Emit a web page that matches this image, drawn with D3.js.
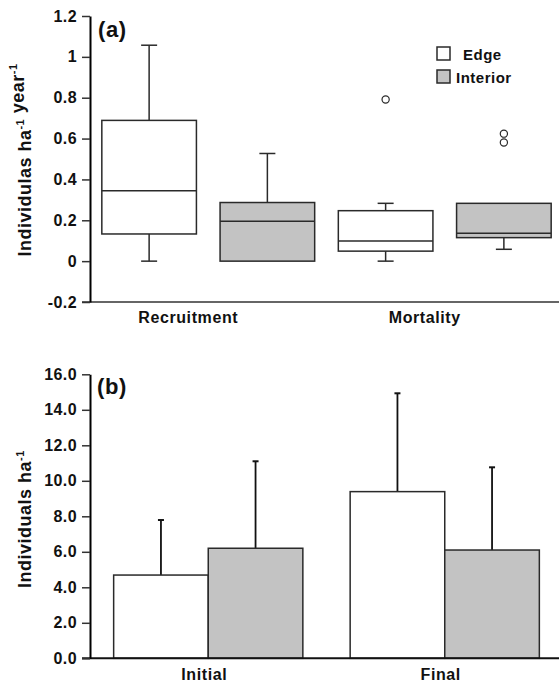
<!DOCTYPE html>
<html>
<head>
<meta charset="utf-8">
<script src="https://cdn.jsdelivr.net/npm/d3@7"></script>
<style>
  body { margin: 0; background: #fff; }
  svg { display: block; font-family: "Liberation Sans", Arial, sans-serif; font-weight: bold; }
  .tick text { font-size: 16px; letter-spacing: 0.4px; fill: #111; }
</style>
</head>
<body>
<svg width="559" height="684"></svg>
<script>
// ---- data ----
const series = ["Edge", "Interior"];
const seriesFill = ["#ffffff", "#c3c3c3"];

// panel (a): box plots
const groupsA = ["Recruitment", "Mortality"];
const edgeLo  = [0.000, 0.000];
const edgeQ1  = [0.133, 0.049];
const edgeMed = [0.345, 0.098];
const edgeQ3  = [0.689, 0.247];
const edgeHi  = [1.057, 0.283];
const intLo   = [0.000, 0.058];
const intQ1   = [0.000, 0.115];
const intMed  = [0.195, 0.136];
const intQ3   = [0.287, 0.283];
const intHi   = [0.527, 0.283];
const edgeOut = [[], [0.791]];
const intOut  = [[], [0.624, 0.581]];
const yTicksA = [-0.2, 0, 0.2, 0.4, 0.6, 0.8, 1, 1.2];
const yTickLabelsA = ["-0.2", "0", "0.2", "0.4", "0.6", "0.8", "1", "1.2"];

// panel (b): bars with SD
const groupsB = ["Initial", "Final"];
const edgeMean = [4.69, 9.39];
const edgeSD   = [3.10, 5.54];
const intMean  = [6.20, 6.10];
const intSD    = [4.90, 4.66];
const yTicksB = [0, 2, 4, 6, 8, 10, 12, 14, 16];
const yTickLabelsB = ["0.0", "2.0", "4.0", "6.0", "8.0", "10.0", "12.0", "14.0", "16.0"];

const svg = d3.select("svg");
const X0 = 90, X1 = 563;
const ink = "#2a2a2a";

function yAxis(g, y, ticks, labels) {
  g.call(d3.axisLeft(y).tickValues(ticks).tickSize(8).tickSizeOuter(0).tickPadding(5)
      .tickFormat((d, i) => labels[i]));
  g.select(".domain").attr("stroke", "#000").attr("stroke-width", 2);
  g.selectAll(".tick line").attr("stroke", "#333").attr("stroke-width", 1.5);
}

function yTitle(x, y, parts) {
  const t = svg.append("text").attr("transform", `translate(${x},${y}) rotate(-90)`)
    .attr("text-anchor", "middle").style("font-size", "18px").style("letter-spacing", "0.5px").attr("fill", "#111");
  parts.forEach(p => {
    if (p.sup) {
      t.append("tspan").attr("dy", -7).style("font-size", "11px").text(p.sup);
      t.append("tspan").attr("dy", 7).text("");
    } else t.append("tspan").text(p.t);
  });
}

// ================= panel (a) =================
const yA = d3.scaleLinear().domain([-0.2, 1.2]).range([302, 16]);
const gxA = d3.scaleBand().domain(groupsA).range([X0, X1]);
const sxA = d3.scaleBand().domain(series).range([0, gxA.bandwidth()]).paddingInner(0.2).paddingOuter(0.1);

const boxes = [];
groupsA.forEach((g, i) => {
  boxes.push({ g, s: "Edge", lo: edgeLo[i], q1: edgeQ1[i], med: edgeMed[i], q3: edgeQ3[i], hi: edgeHi[i], out: edgeOut[i] });
  boxes.push({ g, s: "Interior", lo: intLo[i], q1: intQ1[i], med: intMed[i], q3: intQ3[i], hi: intHi[i], out: intOut[i] });
});

const bA = svg.append("g").selectAll("g").data(boxes).join("g")
  .attr("transform", d => `translate(${gxA(d.g) + sxA(d.s)},0)`);
const bw = sxA.bandwidth(), cx = bw / 2, capA = 8;

// whiskers
bA.each(function (d) {
  const g = d3.select(this);
  [[d.q3, d.hi], [d.q1, d.lo]].forEach(([a, b]) => {
    if (Math.abs(a - b) < 1e-6) return;
    g.append("line").attr("x1", cx).attr("x2", cx).attr("y1", yA(a)).attr("y2", yA(b))
      .attr("stroke", ink).attr("stroke-width", 1.5);
    g.append("line").attr("x1", cx - capA).attr("x2", cx + capA).attr("y1", yA(b)).attr("y2", yA(b))
      .attr("stroke", ink).attr("stroke-width", 1.5);
  });
});
bA.append("rect").attr("x", 0).attr("width", bw)
  .attr("y", d => yA(d.q3)).attr("height", d => yA(d.q1) - yA(d.q3))
  .attr("fill", d => seriesFill[series.indexOf(d.s)]).attr("stroke", ink).attr("stroke-width", 1.5);
bA.append("line").attr("x1", 0).attr("x2", bw).attr("y1", d => yA(d.med)).attr("y2", d => yA(d.med))
  .attr("stroke", ink).attr("stroke-width", 1.5);
bA.selectAll("circle").data(d => d.out).join("circle")
  .attr("cx", cx).attr("cy", v => yA(v)).attr("r", 3.6)
  .attr("fill", "#fff").attr("stroke", ink).attr("stroke-width", 1.2);

// axes
svg.append("line").attr("x1", 82).attr("x2", X1).attr("y1", yA(-0.2)).attr("y2", yA(-0.2))
  .attr("stroke", "#333").attr("stroke-width", 1.5);
yAxis(svg.append("g").attr("transform", `translate(${X0},0)`), yA, yTicksA, yTickLabelsA);
svg.append("g").selectAll("text").data(groupsA).join("text")
  .attr("x", d => gxA(d) + gxA.bandwidth() / 2 - 20).attr("y", 323)
  .attr("text-anchor", "middle").style("font-size", "16px").style("letter-spacing", "0.6px").attr("fill", "#111")
  .text(d => d);
svg.append("text").attr("x", 98).attr("y", 37).style("font-size", "22px").style("letter-spacing", "0.6px")
  .attr("fill", "#111").text("(a)");
yTitle(31, 160, [{ t: "Individulas ha" }, { sup: "-1" }, { t: " year" }, { sup: "-1" }]);

// legend
const leg = svg.append("g").selectAll("g").data(series).join("g")
  .attr("transform", (d, i) => `translate(437,${47 + i * 23})`);
leg.append("rect").attr("width", 13).attr("height", 13)
  .attr("fill", (d, i) => seriesFill[i]).attr("stroke", ink).attr("stroke-width", 1.5);
leg.append("text").attr("x", (d, i) => i === 0 ? 26 : 19).attr("y", 13)
  .style("font-size", "15px").style("letter-spacing", "0.5px").attr("fill", "#111").text(d => d);

// ================= panel (b) =================
const yB = d3.scaleLinear().domain([0, 16]).range([658.3, 374.3]);
const gxB = d3.scaleBand().domain(groupsB).range([X0, X1]).paddingInner(0.2).paddingOuter(0.1);
const sxB = d3.scaleBand().domain(series).range([0, gxB.bandwidth()]);

const bars = [];
groupsB.forEach((g, i) => {
  bars.push({ g, s: "Edge", m: edgeMean[i], sd: edgeSD[i] });
  bars.push({ g, s: "Interior", m: intMean[i], sd: intSD[i] });
});
const bB = svg.append("g").selectAll("g").data(bars).join("g")
  .attr("transform", d => `translate(${gxB(d.g) + sxB(d.s)},0)`);
const bwB = sxB.bandwidth();
bB.append("line").attr("x1", bwB / 2).attr("x2", bwB / 2)
  .attr("y1", d => yB(d.m)).attr("y2", d => yB(d.m + d.sd)).attr("stroke", "#111").attr("stroke-width", 1.8);
bB.append("line").attr("x1", bwB / 2 - 3).attr("x2", bwB / 2 + 3)
  .attr("y1", d => yB(d.m + d.sd)).attr("y2", d => yB(d.m + d.sd)).attr("stroke", "#111").attr("stroke-width", 2);
bB.append("rect").attr("x", 0).attr("width", bwB)
  .attr("y", d => yB(d.m)).attr("height", d => yB(0) - yB(d.m))
  .attr("fill", d => seriesFill[series.indexOf(d.s)]).attr("stroke", ink).attr("stroke-width", 1.5);

svg.append("line").attr("x1", 82).attr("x2", X1).attr("y1", yB(0)).attr("y2", yB(0))
  .attr("stroke", "#111").attr("stroke-width", 2);
yAxis(svg.append("g").attr("transform", `translate(${X0},0)`), yB, yTicksB, yTickLabelsB);
svg.append("g").selectAll("text").data(groupsB).join("text")
  .attr("x", d => gxB(d) + gxB.bandwidth() / 2 - 4).attr("y", 680)
  .attr("text-anchor", "middle").style("font-size", "16px").style("letter-spacing", "0.6px").attr("fill", "#111")
  .text(d => d);
svg.append("text").attr("x", 97).attr("y", 394).style("font-size", "22px").style("letter-spacing", "0.6px")
  .attr("fill", "#111").text("(b)");
yTitle(31, 519, [{ t: "Individuals ha" }, { sup: "-1" }]);
</script>
</body>
</html>
